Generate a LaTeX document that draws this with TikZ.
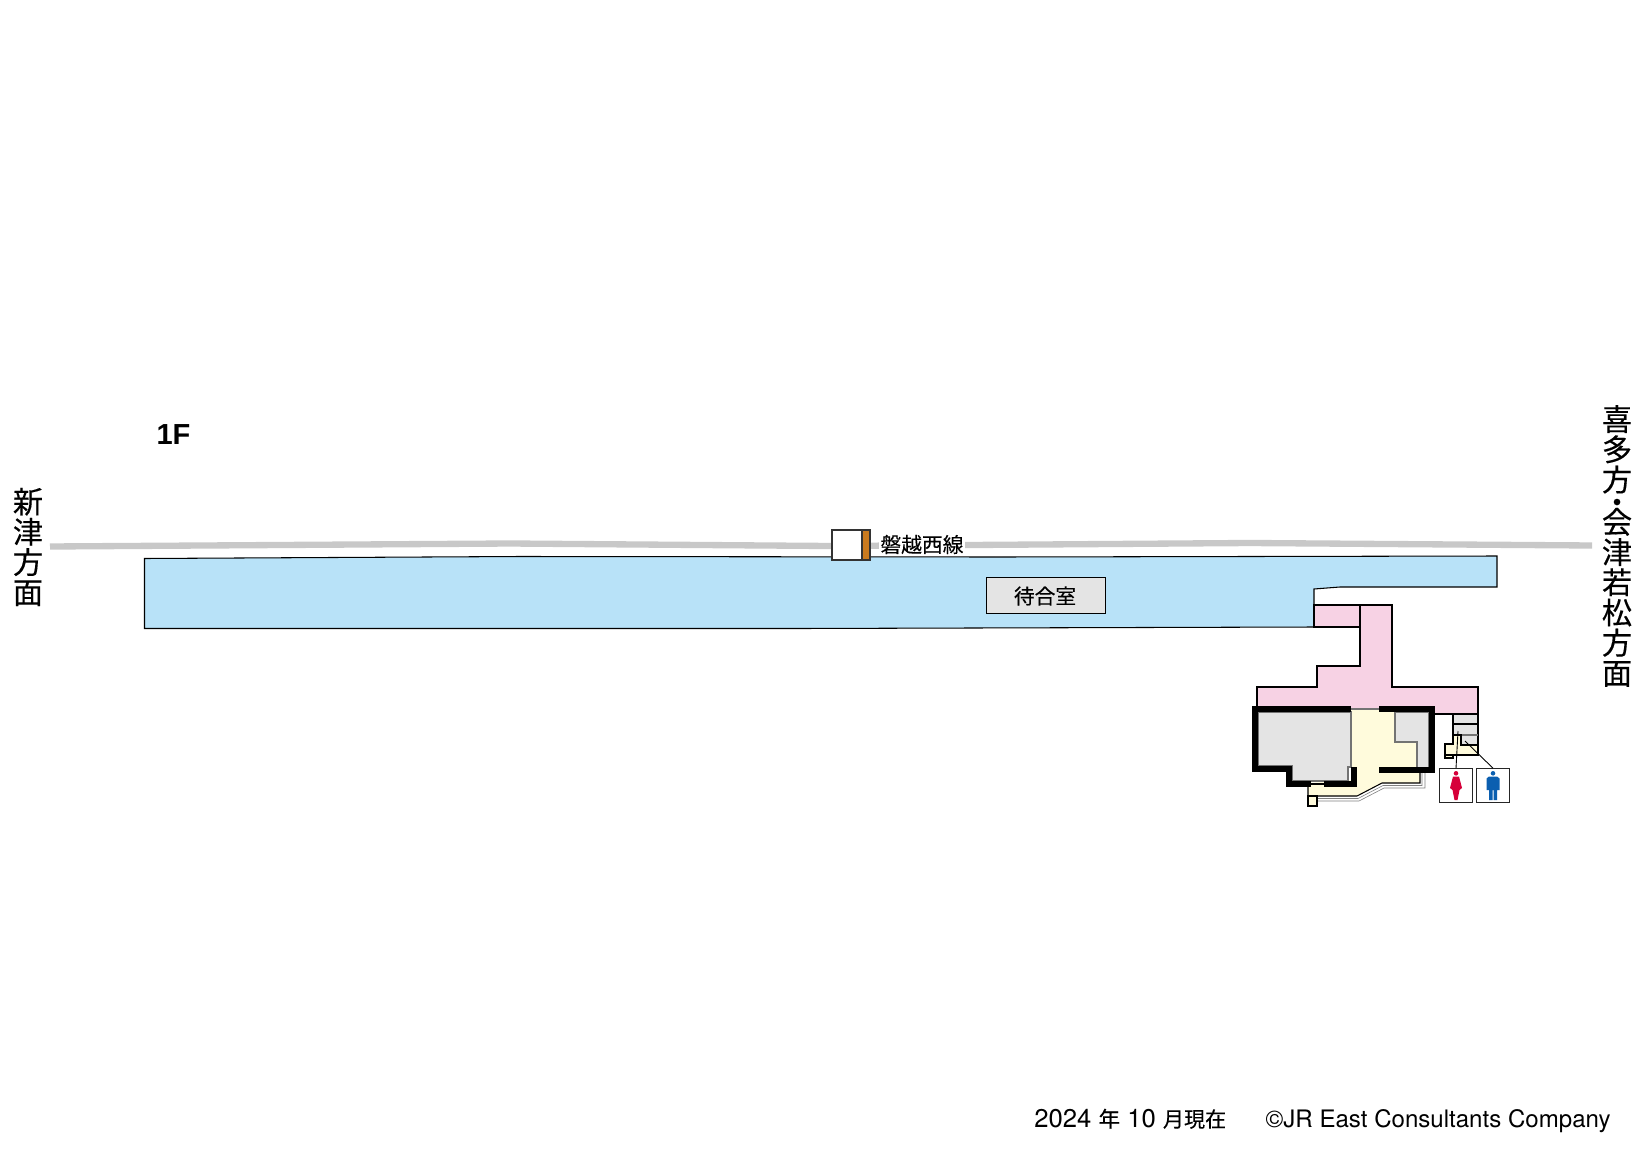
\documentclass[tikz,border=0pt]{standalone}
\usepackage{fontspec}
\setmainfont{Liberation Sans}
\newfontfamily\jpfont[FakeBold=0.3]{Noto Sans CJK JP}
\newfontfamily\footfont{TeX Gyre Heros}
\definecolor{platblue}{HTML}{B8E2F8}
\definecolor{passpink}{HTML}{F7D2E4}
\definecolor{hallyellow}{HTML}{FFFBDC}
\definecolor{roomgray}{HTML}{E4E4E4}
\definecolor{trackgray}{HTML}{C8C8C8}
\definecolor{shelterorange}{HTML}{C97A1E}
\definecolor{ladyred}{HTML}{D6003A}
\definecolor{menblue}{HTML}{0B5FB0}
\tikzset{
	outline/.style={draw=black,line width=0.6pt,line join=miter},
	wall/.style={line width=3.4pt,line join=miter,line cap=butt},
	ramp/.style={draw=black!50,line width=0.35pt},
	dirtext/.style={font={\jpfont\fontsize{17.2}{17.2}\selectfont\lineskiplimit=-30pt},align=center,inner sep=0pt},
	jptext/.style={font={\jpfont\fontsize{11.8}{14}\selectfont},inner sep=0pt},
	wcbox/.style={draw=black!85,line width=0.7pt,fill=white,minimum size=19pt,inner sep=0pt}
}
\begin{document}
\begin{tikzpicture}[x=0.02cm,y=-0.02cm]
	\useasboundingbox (0,0) rectangle (1642,1162);

	%track
	\draw[trackgray,line width=3.6pt] (50,546.5) -- (510,543.5) -- (830,546) -- (1250,543) -- (1592,545.5);

	%platform
	\draw[outline,fill=platblue] (144.5,558.5) -- (520,556.5) -- (1000,557) -- (1497,556) -- (1497,587)
	  -- (1340,587) -- (1314,589) -- (1314,627) -- (800,628.5) -- (144.5,628.5) -- cycle;
	\node[outline,fill=roomgray,minimum width=67.5pt,minimum height=21pt,inner sep=0pt] (waiting) at (1046,595.5) {};
	\node[jptext] (waitinglabel) at (1045,596) {待合室};

	%shelter on the platform
	\draw[outline,draw=black!80,fill=white] (832,530) rectangle (862,560);
	\draw[outline,draw=black!80,fill=shelterorange] (862,530) rectangle (870,560);
	\node[jptext,fill=white,inner xsep=1pt] (linename) at (922,544.5) {磐越西線};

	%passage
	\draw[outline,fill=passpink] (1360,605) -- (1392,605) -- (1392,687) -- (1478,687) -- (1478,714)
	  -- (1257,714) -- (1257,687) -- (1317,687) -- (1317,666) -- (1360,666) -- cycle;
	\draw[outline,fill=passpink] (1314,605) rectangle (1360,627);

	%ramp lines
	\draw[ramp] (1317,798.5) -- (1358,798.5) -- (1383,785.5) -- (1422,785.5) -- (1422,771);
	\draw[ramp] (1317,801) -- (1359,801) -- (1384,788) -- (1425,788) -- (1425,771);

	%concourse
	\fill[hallyellow] (1351,709) -- (1395,709) -- (1395,742) -- (1417,742) -- (1417,770) -- (1420,770)
	  -- (1420,783) -- (1382,783) -- (1357,796) -- (1308,796) -- (1308,783) -- (1351,780) -- cycle;
	\draw[outline] (1308,784) -- (1308,796) -- (1357,796) -- (1382,783) -- (1420,783) -- (1420,771);
	\draw[outline,fill=hallyellow] (1308,796) rectangle (1317,806);
	\draw[outline] (1311,784) -- (1324,784);

	%rooms
	\draw[outline,draw=black!55,fill=roomgray] (1258,712) -- (1351,712) -- (1351,767) -- (1348,767) -- (1348,781)
	  -- (1292,781) -- (1292,766) -- (1258,766) -- cycle;
	\draw[outline,draw=black!55,fill=roomgray] (1395,712) -- (1429,712) -- (1429,768) -- (1417,768) -- (1417,742) -- (1395,742) -- cycle;
	\draw[outline,draw=black!55] (1351,709) -- (1379,709);

	%walls
	\draw[wall] (1351,709) -- (1255,709) -- (1255,769) -- (1289,769) -- (1289,784) -- (1311,784);
	\draw[wall] (1324,784) -- (1353.5,784) -- (1353.5,770) -- (1357,770);
	\draw[wall] (1379,709) -- (1432,709) -- (1432,770) -- (1379,770);

	%toilets
	\draw[outline,fill=roomgray] (1453,714) rectangle (1478,745);
	\draw[outline] (1453,724) -- (1478,724);
	\draw[outline,draw=black!55,line width=0.9pt] (1453,735) -- (1478,735);
	\draw[outline,fill=hallyellow] (1445,744) -- (1453,744) -- (1453,735) -- (1461,735) -- (1461,745) -- (1478,745)
	  -- (1478,755) -- (1453,755) -- (1453,758) -- (1445,758) -- cycle;
	\draw[outline] (1445,755) -- (1453,755);

	\node[wcbox] (ladies) at (1456,785.5) {};
	\node[wcbox] (men) at (1493,785.5) {};
	\coordinate (ladiesend) at (1458,731);
	\coordinate (menend) at (1465,741);
	\draw[line width=0.5pt] (ladiesend) -- (ladies.north);
	\draw[line width=0.5pt] (menend) -- (men.north);

	%pictograms
	\fill[ladyred] (1456,773.3) circle (2.3);
	\fill[ladyred] (1453,776.5) -- (1459,776.5) -- (1462,788) -- (1459.5,790) -- (1457.5,800) -- (1454.5,800) -- (1452.5,790) -- (1450,788) -- cycle;
	\fill[menblue] (1493,773.3) circle (2.3);
	\fill[menblue] (1489,776.5) -- (1497,776.5) -- (1499.5,778.5) -- (1499.5,790) -- (1497,790) -- (1497,800) -- (1493.5,800)
	  -- (1493.5,790) -- (1492.5,790) -- (1492.5,800) -- (1489,800) -- (1489,790) -- (1486.5,790) -- (1486.5,778.5) -- cycle;

	%labels
	\node[font=\bfseries\fontsize{16.5}{18}\selectfont,inner sep=0pt] (floor) at (173.5,435) {1F};
	\node[dirtext] (west) at (28,547) {新\\津\\方\\面};
	\node[dirtext] (east) at (1617,546) {喜\\多\\方\\[-4.4pt]・\\[-5.9pt]会\\津\\若\\松\\方\\面};
	\node[anchor=base west,inner sep=0pt] (asof) at (1034,1127) {\footfont\fontsize{14.6}{15}\selectfont 2024 {\jpfont\fontsize{12.3}{15}\selectfont 年} 10 {\jpfont\fontsize{12}{15}\selectfont 月現在}};
	\node[anchor=base east,inner sep=0pt] (credit) at (1611,1127) {\footfont\fontsize{13.7}{15}\selectfont ©JR East Consultants Company};
\end{tikzpicture}
\end{document}
